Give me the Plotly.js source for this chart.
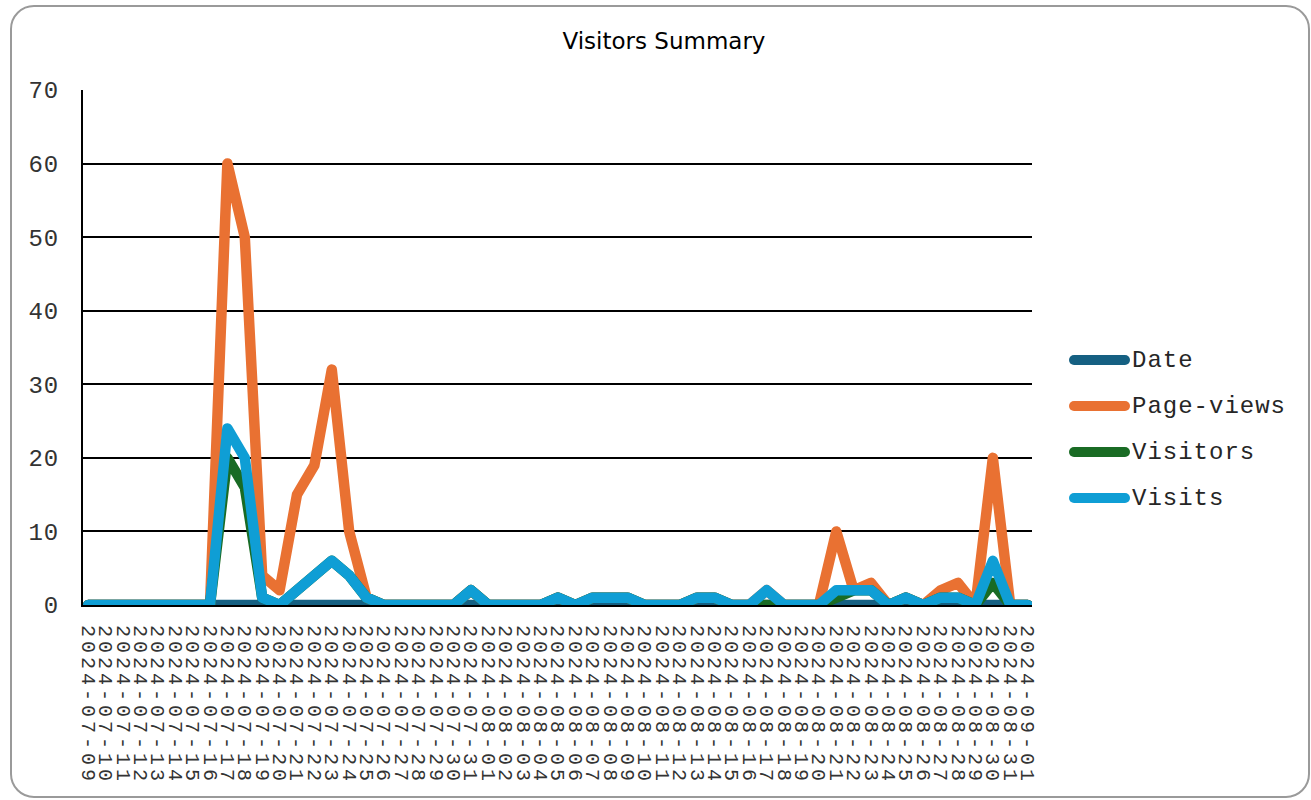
<!DOCTYPE html>
<html>
<head>
<meta charset="utf-8">
<script src="https://cdn.plot.ly/plotly-3.0.1.min.js"></script>
<style>
html,body{margin:0;padding:0;background:#fff;}
#wrap{position:relative;width:1311px;height:800px;overflow:hidden;}
#chart{position:absolute;left:0;top:0;width:1311px;height:800px;}
#frame{position:absolute;left:10px;top:5px;width:1296px;height:789px;border:2px solid #9a9a9a;border-radius:24px;pointer-events:none;}
.xtick text{letter-spacing:4px;}
.ytick text{letter-spacing:1px;}
.annotation-text{letter-spacing:1px;}
.scatterlayer .js-line{stroke-linejoin:round !important;stroke-linecap:round !important;}
.shapelayer path{stroke-linecap:round !important;}
</style>
</head>
<body>
<div id="wrap"><div id="chart"></div><div id="frame"></div></div>
<script>
const dates = [
  '2024-07-09','2024-07-10','2024-07-11','2024-07-12','2024-07-13','2024-07-14','2024-07-15',
  '2024-07-16','2024-07-17','2024-07-18','2024-07-19','2024-07-20','2024-07-21','2024-07-22',
  '2024-07-23','2024-07-24','2024-07-25','2024-07-26','2024-07-27','2024-07-28','2024-07-29',
  '2024-07-30','2024-07-31','2024-08-01','2024-08-02','2024-08-03','2024-08-04','2024-08-05',
  '2024-08-06','2024-08-07','2024-08-08','2024-08-09','2024-08-10','2024-08-11','2024-08-12',
  '2024-08-13','2024-08-14','2024-08-15','2024-08-16','2024-08-17','2024-08-18','2024-08-19',
  '2024-08-20','2024-08-21','2024-08-22','2024-08-23','2024-08-24','2024-08-25','2024-08-26',
  '2024-08-27','2024-08-28','2024-08-29','2024-08-30','2024-08-31','2024-09-01'
];
const dateSeries = [0,0,0,0,0,0,0,0,0,0,0,0,0,0,0,0,0,0,0,0,0,0,0,0,0,0,0,0,0,0,0,0,0,0,0,0,0,0,0,0,0,0,0,0,0,0,0,0,0,0,0,0,0,0,0];
const pageViews = [0,0,0,0,0,0,0,0,60,50,4,2,15,19,32,10,1,0,0,0,0,0,2,0,0,0,0,1,0,1,1,1,0,0,0,1,1,0,0,2,0,0,0,10,2,3,0,1,0,2,3,0,20,0,0];
const visitors  = [0,0,0,0,0,0,0,0,20,16,1,0,2,4,6,4,1,0,0,0,0,0,2,0,0,0,0,1,0,1,1,1,0,0,0,1,1,0,0,0,0,0,0,1,2,2,0,1,0,1,1,0,3,0,0];
const visits    = [0,0,0,0,0,0,0,0,24,20,1,0,2,4,6,4,1,0,0,0,0,0,2,0,0,0,0,1,0,1,1,1,0,0,0,1,1,0,0,2,0,0,0,2,2,2,0,1,0,1,1,0,6,0,0];
const seriesNames = ['Date','Page-views','Visitors','Visits'];
const yTicks = [0,10,20,30,40,50,60,70];

const colors = ['#156082','#E97132','#196B24','#0F9ED5'];
const allSeries = [dateSeries, pageViews, visitors, visits];

const L = 83, R = 1032, T = 90, B = 605;
const W = R - L, H = B - T;
const px = p => (p - L) / W;
const py = p => (B - p) / H;

const traces = allSeries.map((vals, k) => ({
  type: 'scatter', mode: 'lines', x: dates, y: vals, name: seriesNames[k],
  line: {color: colors[k], width: 10.5}, showlegend: false, hoverinfo: 'skip'
}));

const legendY = [360, 406, 452, 498];
const shapes = [];
const annotations = [];
seriesNames.forEach((n, k) => {
  shapes.push({type: 'line', xref: 'paper', yref: 'paper',
    x0: px(1074), x1: px(1125), y0: py(legendY[k]), y1: py(legendY[k]),
    line: {color: colors[k], width: 10}});
  annotations.push({xref: 'paper', yref: 'paper', x: px(1130), y: py(legendY[k]),
    xanchor: 'left', yanchor: 'middle', showarrow: false, text: n,
    font: {family: 'Liberation Mono, monospace', size: 24, color: '#262626'}});
});

const layout = {
  width: 1311, height: 800,
  margin: {l: L, r: 1311 - R, t: T, b: 800 - B, autoexpand: false},
  paper_bgcolor: 'rgba(0,0,0,0)', plot_bgcolor: 'rgba(0,0,0,0)',
  title: {text: 'Visitors Summary', font: {family: 'DejaVu Sans, sans-serif', size: 23, color: '#000'},
    xref: 'container', x: 664/1311, xanchor: 'center', yref: 'container', y: 1 - 41/800, yanchor: 'middle'},
  showlegend: false,
  xaxis: {type: 'category', range: [-0.3, 54.25], tickmode: 'array', tickvals: dates, ticktext: dates,
    tickangle: 90, tickfont: {family: 'Liberation Mono, monospace', size: 20, color: '#333'},
    showgrid: false, zeroline: false, showline: true, linecolor: '#000', linewidth: 2, ticks: '',
    ticklabelstandoff: 14, fixedrange: true},
  yaxis: {range: [0, 70], tickmode: 'array', tickvals: yTicks, ticktext: yTicks.map(String),
    showgrid: true, gridcolor: '#000', gridwidth: 2, zeroline: false, showline: true, linecolor: '#000', linewidth: 2,
    ticks: '', tickfont: {family: 'Liberation Mono, monospace', size: 24, color: '#333'},
    ticklabelstandoff: 17, fixedrange: true},
  shapes: shapes, annotations: annotations
};

Plotly.newPlot('chart', traces, layout, {displayModeBar: false, staticPlot: true});
</script>
</body>
</html>
